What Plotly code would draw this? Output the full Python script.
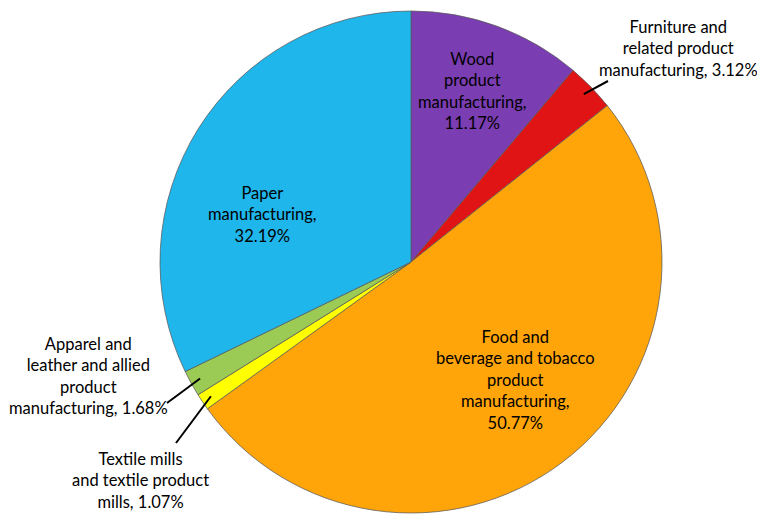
import math
import plotly.graph_objects as go

categories = [
    "Wood product manufacturing",
    "Furniture and related product manufacturing",
    "Food and beverage and tobacco product manufacturing",
    "Textile mills and textile product mills",
    "Apparel and leather and allied product manufacturing",
    "Paper manufacturing",
]
values = [11.17, 3.12, 50.77, 1.07, 1.68, 32.19]
label_texts = [
    "Wood<br>product<br>manufacturing,<br>11.17%",
    "Furniture and<br>related product<br>manufacturing, 3.12%",
    "Food and<br>beverage and tobacco<br>product<br>manufacturing,<br>50.77%",
    "Textile mills<br>and textile product<br>mills, 1.07%",
    "Apparel and<br>leather and allied<br>product<br>manufacturing, 1.68%",
    "Paper<br>manufacturing,<br>32.19%",
]
colors = ["#7B3DB2", "#E01414", "#FFA50A", "#FFFF00", "#9CCB55", "#1FB6EC"]

W, H = 757, 516
CX, CY, R = 411, 262, 251

fig = go.Figure(go.Pie(
    labels=categories, values=values, sort=False, direction="clockwise",
    rotation=0, textinfo="none", hoverinfo="label+percent",
    marker=dict(colors=colors, line=dict(color="rgba(90,90,90,0.75)", width=1)),
    domain=dict(x=[(CX - R) / W, (CX + R) / W], y=[1 - (CY + R) / H, 1 - (CY - R) / H]),
    showlegend=False,
))

# label positions (pixel centers) and leader-line outer ends
label_pos = [(472, 91), (678, 49), (515, 380), (140, 480), (88, 376), (262, 214)]
leader_out = [None, (608, 81), None, (176, 443), (167, 403), None]

def px(x, y):
    return x / W, 1 - y / H

total = sum(values)
cum = 0
shapes = []
annotations = []
for v, txt, pos, lo in zip(values, label_texts, label_pos, leader_out):
    mid = (cum + v / 2) / total * 2 * math.pi
    cum += v
    if lo is not None:
        r_in = R * 0.96
        tx = CX + r_in * math.sin(mid)
        ty = CY - r_in * math.cos(mid)
        x0, y0 = px(tx, ty)
        x1, y1 = px(*lo)
        shapes.append(dict(type="line", xref="paper", yref="paper",
                           x0=x0, y0=y0, x1=x1, y1=y1,
                           line=dict(color="black", width=2)))
    ax, ay = px(*pos)
    annotations.append(dict(text=txt, x=ax, y=ay, xref="paper", yref="paper",
                            xanchor="center", yanchor="middle",
                            showarrow=False, align="center",
                            font=dict(family="Lato, Open Sans, sans-serif", size=16.5, color="black")))

fig.update_layout(
    width=W, height=H,
    margin=dict(l=0, r=0, t=0, b=0),
    paper_bgcolor="white", plot_bgcolor="white",
    shapes=shapes, annotations=annotations,
)

fig.write_html("out.html", config={"displayModeBar": False},
               post_script="document.body.style.margin='0px';")
